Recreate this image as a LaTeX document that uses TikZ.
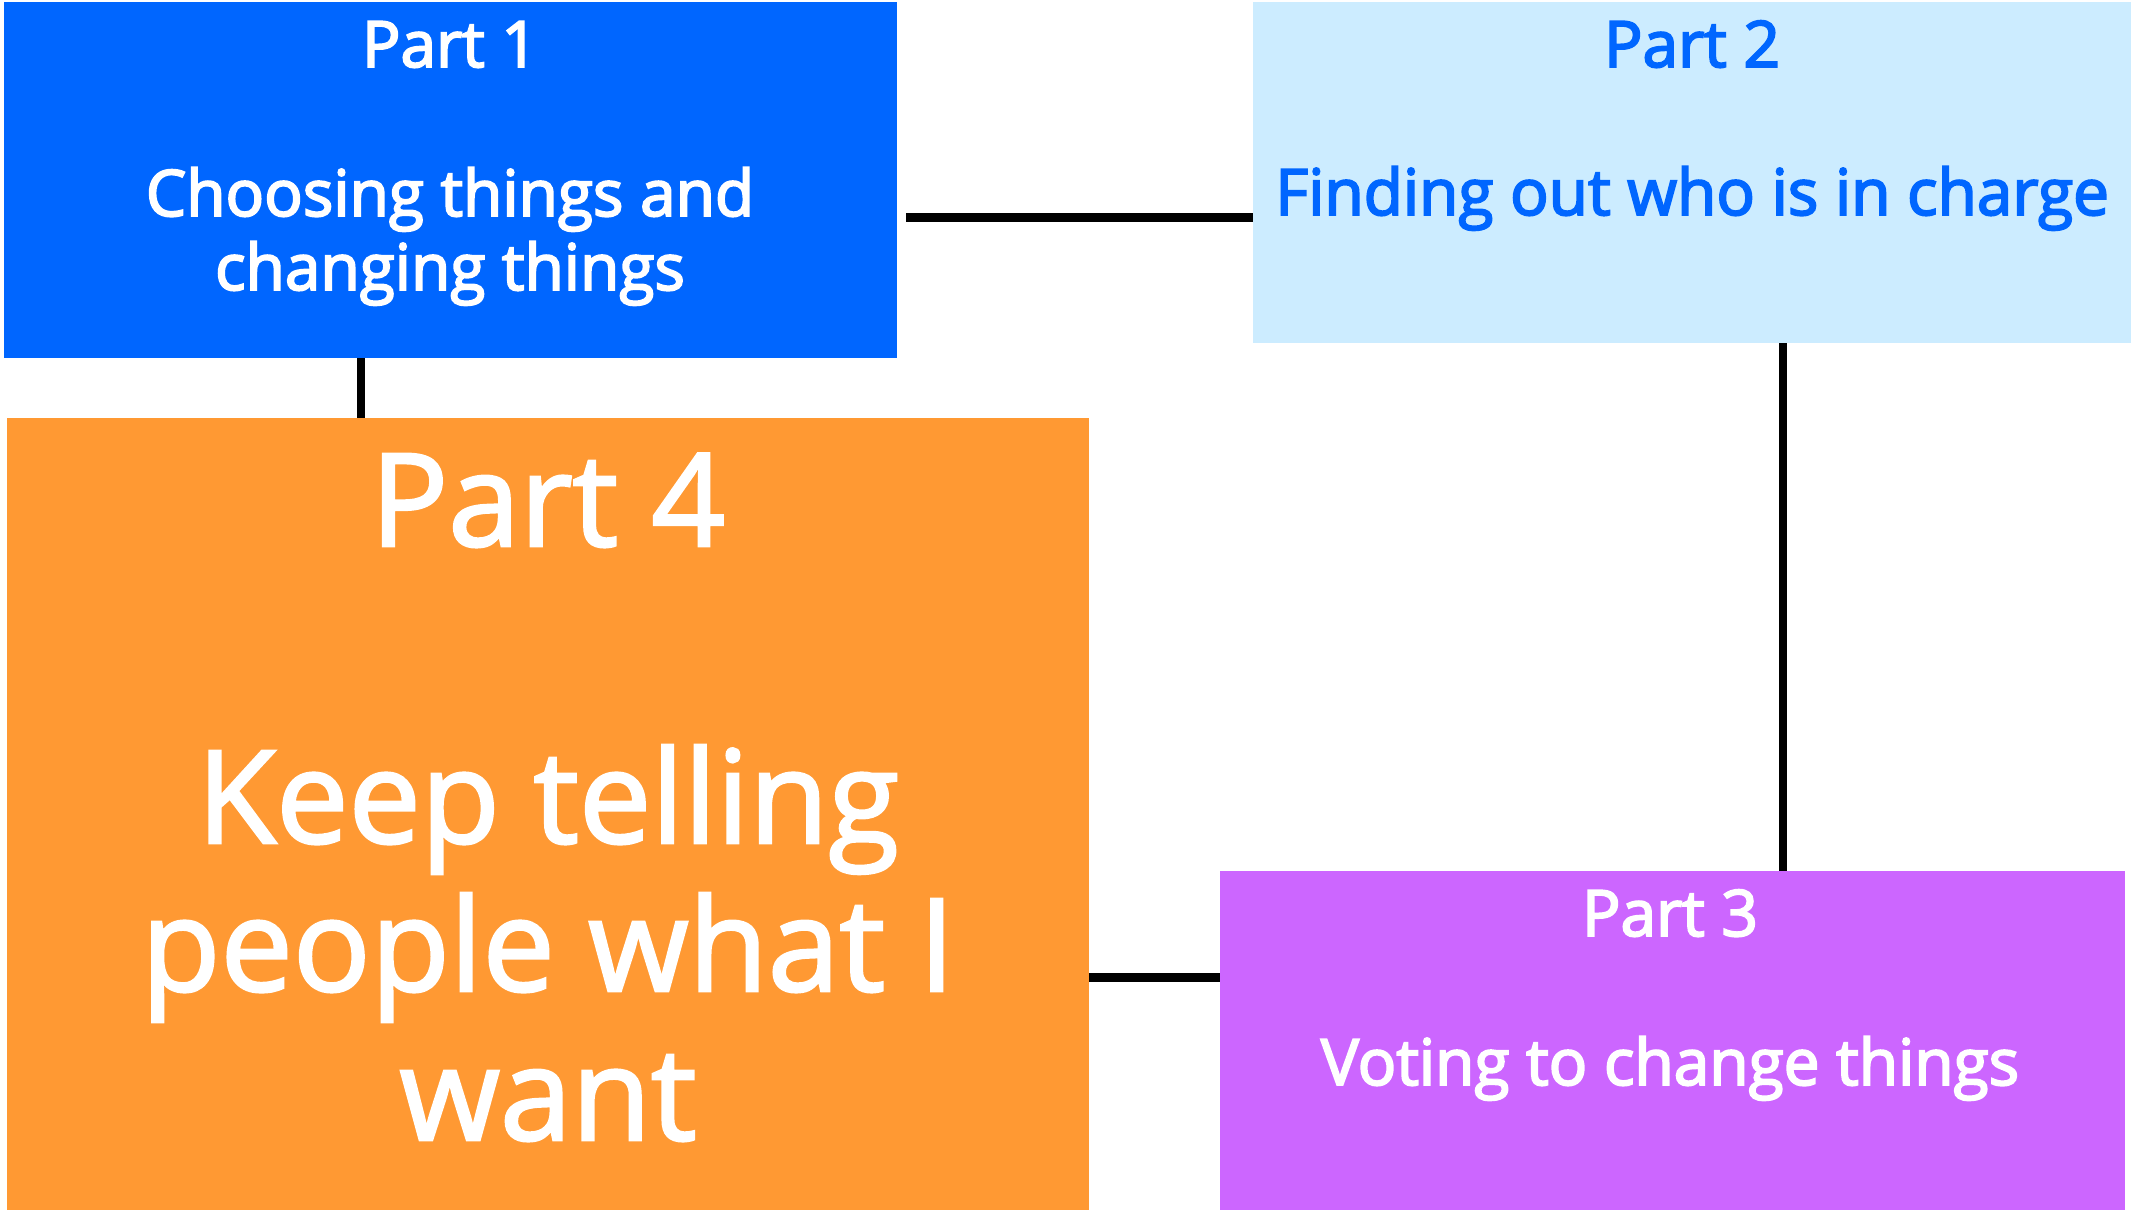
\documentclass[tikz,border=0pt]{standalone}
\usepackage{fontspec}
\setmainfont{Open Sans}
\newfontfamily\smallfnt[FakeBold=3]{Open Sans}
\newfontfamily\bigfnt[FakeBold=2]{Open Sans}
\definecolor{bluebox}{HTML}{0066FF}
\definecolor{lightbox}{HTML}{CCECFF}
\definecolor{orangebox}{HTML}{FF9933}
\definecolor{purplebox}{HTML}{CC66FF}
\begin{document}
\begin{tikzpicture}[x=1pt,y=-1pt,
  box/.style={draw=none,inner sep=0pt,outer sep=0pt,anchor=north west},
  conn/.style={line width=9pt,black},
  vconn/.style={line width=8pt,black},
  smalltxt/.style={font=\smallfnt\fontsize{64}{74}\selectfont,anchor=base,inner sep=0pt},
  bigtxt/.style={font=\bigfnt\fontsize{129}{148}\selectfont,anchor=base,inner sep=0pt}]
\useasboundingbox (0,0) rectangle (2143,1210);
% boxes
\node[box,fill=bluebox,minimum width=893pt,minimum height=356pt] (p1) at (4,2) {};
\node[box,fill=lightbox,minimum width=878pt,minimum height=341pt] (p2) at (1253,2) {};
\node[box,fill=orangebox,minimum width=1082pt,minimum height=792pt] (p4) at (7,418) {};
\node[box,fill=purplebox,minimum width=905pt,minimum height=339pt] (p3) at (1220,871) {};
% connectors
\coordinate (c12) at (906,217);
\draw[conn] (c12) -- (c12 -| p2.west);
\coordinate (c14) at (361,358);
\draw[vconn] (c14) -- (c14 |- p4.north);
\coordinate (c23) at (1783,343);
\draw[vconn] (c23) -- (c23 |- p3.north);
\coordinate (c43) at (1089,977);
\draw[conn] (c43) -- (c43 -| p3.west);
% texts
\node[smalltxt,text=white] (t1a) at (450,67) {Part 1};
\node[smalltxt,text=white] (t1b) at (450,216) {Choosing things and};
\node[smalltxt,text=white] (t1c) at (450,290) {changing things};
\node[smalltxt,text=bluebox] (t2a) at (1692,67) {Part 2};
\node[smalltxt,text=bluebox] (t2b) at (1692,215) {Finding out who is in charge};
\node[smalltxt,text=white] (t3a) at (1670,936) {Part 3};
\node[smalltxt,text=white] (t3b) at (1670,1085) {Voting to change things};
\node[bigtxt,text=white] (t4a) at (548,546) {Part 4};
\node[bigtxt,text=white] (t4b) at (548,843) {Keep telling};
\node[bigtxt,text=white] (t4c) at (548,991) {people what I};
\node[bigtxt,text=white] (t4d) at (548,1140) {want};
\end{tikzpicture}
\end{document}
